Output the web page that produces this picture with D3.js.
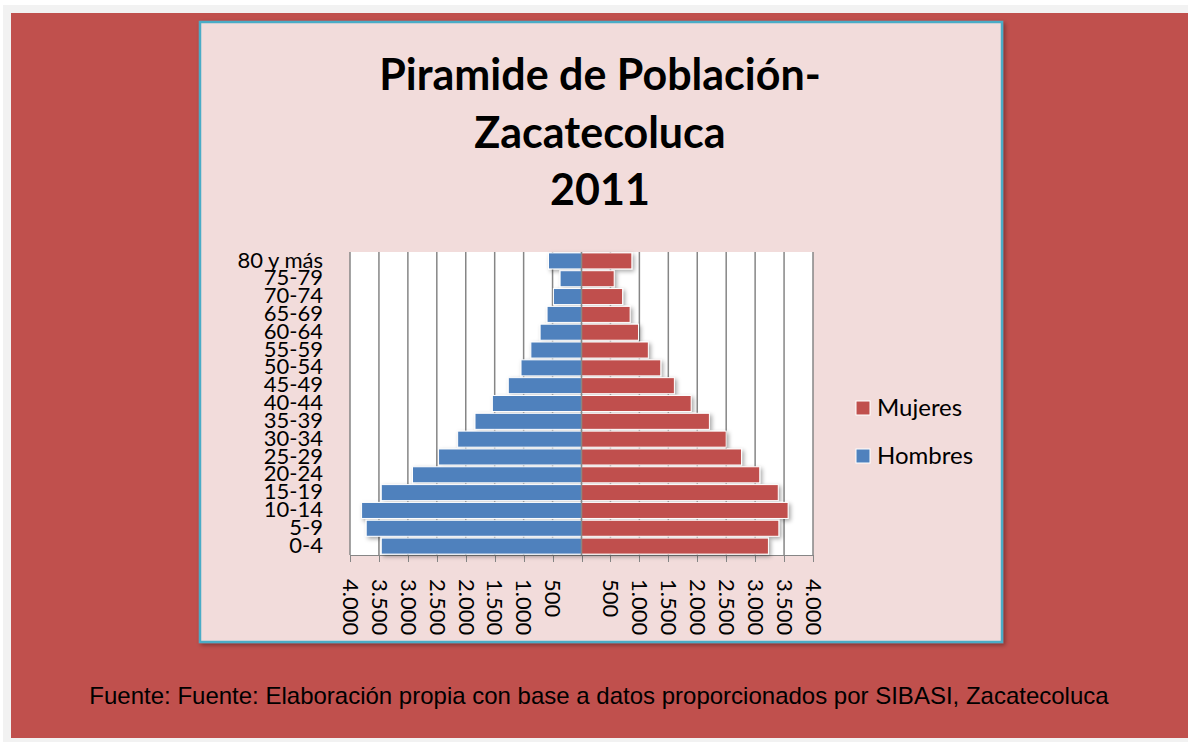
<!DOCTYPE html>
<html lang="es">

<head>
  <meta charset="utf-8">
  <title>Piramide de Población - Zacatecoluca 2011</title>
  <style>
    body {
      margin: 0;
      background: #ffffff;
    }

    .axis text {
      font-family: Lato, "Open Sans", sans-serif;
      fill: #000;
    }

    .axis path,
    .axis line {
      fill: none;
      stroke: #868686;
      shape-rendering: crispEdges;
    }
  </style>
</head>

<body>
  <div id="chart"></div>

<script src="https://d3js.org/d3.v7.min.js"></script>

<script>
  // age groups, youngest first
  const ageGroups = ["0-4", "5-9", "10-14", "15-19", "20-24", "25-29", "30-34", "35-39",
    "40-44", "45-49", "50-54", "55-59", "60-64", "65-69", "70-74", "75-79", "80 y más"];
  const hombres = [3460, 3720, 3800, 3460, 2920, 2470, 2140, 1840,
    1540, 1265, 1045, 875, 715, 595, 485, 370, 570];
  const mujeres = [3230, 3410, 3570, 3400, 3080, 2765, 2500, 2210,
    1895, 1605, 1370, 1155, 985, 840, 710, 565, 870];
  const tickValues = d3.range(-4000, 4001, 500);
  const titleLines = ["Piramide de Población-", "Zacatecoluca", "2011"];
  const legendItems = [{ name: "Mujeres", color: "#c0504d" }, { name: "Hombres", color: "#4f81bd" }];
  const footer = "Fuente: Fuente: Elaboración propia con base a datos proporcionados por SIBASI, Zacatecoluca";

  const width = 1188,
    height = 742;

  const plot = { left: 350, right: 813, top: 252, bottom: 555 };

  const svg = d3.select("#chart")
    .append("svg")
    .attr("width", width)
    .attr("height", height)
    .style("display", "block");

  const defs = svg.append("defs");
  const shadow = defs.append("filter").attr("id", "shadow")
    .attr("x", "-10%").attr("y", "-10%").attr("width", "130%").attr("height", "140%");
  shadow.append("feDropShadow")
    .attr("dx", 2).attr("dy", 2).attr("stdDeviation", 2)
    .attr("flood-color", "#000").attr("flood-opacity", 0.35);

  // page background + red panel
  svg.append("rect").attr("x", 3).attr("y", 5).attr("width", width - 3).attr("height", height - 5)
    .attr("fill", "#f2f2f2");
  svg.append("rect").attr("x", 11).attr("y", 13).attr("width", width - 11).attr("height", 725)
    .attr("fill", "#c0504d");

  // chart box
  svg.append("rect")
    .attr("x", 200).attr("y", 22).attr("width", 802).attr("height", 620)
    .attr("fill", "#f2dcdb")
    .attr("stroke", "#4bacc6")
    .attr("stroke-width", 2.5)
    .attr("filter", "url(#shadow)");

  // title
  svg.append("g").selectAll("text")
    .data(titleLines)
    .join("text")
    .attr("x", 600)
    .attr("y", (d, i) => 90 + i * 57.5)
    .attr("text-anchor", "middle")
    .style("font", "bold 43px Lato, 'Open Sans', sans-serif")
    .text(d => d);

  const xScale = d3.scaleLinear()
    .domain([-4000, 4000])
    .range([plot.left, plot.right]);

  const yScale = d3.scaleBand()
    .domain(ageGroups.slice().reverse())
    .range([plot.top, plot.bottom])
    .paddingInner(0.1)
    .paddingOuter(0.05);

  // plot area
  svg.append("rect")
    .attr("x", plot.left).attr("y", plot.top)
    .attr("width", plot.right - plot.left).attr("height", plot.bottom - plot.top)
    .attr("fill", "#fff");

  // vertical gridlines
  svg.append("g").selectAll("line")
    .data(tickValues)
    .join("line")
    .attr("x1", d => xScale(d)).attr("x2", d => xScale(d))
    .attr("y1", plot.top).attr("y2", plot.bottom)
    .attr("stroke", "#868686")
    .attr("stroke-width", 1.5);

  const fmt = d3.formatLocale({ decimal: ",", thousands: ".", grouping: [3], currency: ["", ""] }).format(",");

  const xAxis = svg.append("g")
    .attr("class", "axis")
    .attr("transform", `translate(0,${plot.bottom})`)
    .call(d3.axisBottom(xScale)
      .tickValues(tickValues)
      .tickSizeOuter(0)
      .tickSize(7)
      .tickFormat(d => d === 0 ? "" : fmt(Math.abs(d))));

  xAxis.selectAll("text")
    .attr("transform", "rotate(90)")
    .attr("x", 24)
    .attr("y", 0)
    .attr("dy", "0.35em")
    .style("text-anchor", "start")
    .style("font-size", "22px");

  // bars
  const bars = svg.append("g").attr("filter", "url(#shadow)");

  bars.selectAll("rect.h")
    .data(ageGroups)
    .join("rect")
    .attr("class", "h")
    .attr("x", (d, i) => xScale(-hombres[i]))
    .attr("y", d => yScale(d))
    .attr("width", (d, i) => xScale(0) - xScale(-hombres[i]))
    .attr("height", yScale.bandwidth())
    .attr("fill", "#4f81bd")
    .attr("stroke", "#fff")
    .attr("stroke-width", 1);

  bars.selectAll("rect.m")
    .data(ageGroups)
    .join("rect")
    .attr("class", "m")
    .attr("x", xScale(0))
    .attr("y", d => yScale(d))
    .attr("width", (d, i) => xScale(mujeres[i]) - xScale(0))
    .attr("height", yScale.bandwidth())
    .attr("fill", "#c0504d")
    .attr("stroke", "#fff")
    .attr("stroke-width", 1);

  // center axis line
  svg.append("line")
    .attr("x1", xScale(0)).attr("x2", xScale(0))
    .attr("y1", plot.top).attr("y2", plot.bottom)
    .attr("stroke", "#868686")
    .attr("stroke-width", 1.5);

  // category labels
  const yAxis = svg.append("g")
    .attr("class", "axis")
    .attr("transform", `translate(${plot.left},0)`)
    .call(d3.axisLeft(yScale).tickSize(0).tickPadding(27));
  yAxis.select(".domain").remove();
  yAxis.selectAll("text")
    .style("font-size", "22px")
    .attr("dy", "0.3em");

  // legend
  const legend = svg.append("g")
    .selectAll("g")
    .data(legendItems)
    .join("g")
    .attr("transform", (d, i) => `translate(856,${408 + i * 48})`);

  legend.append("rect")
    .attr("x", 0).attr("y", -7)
    .attr("width", 14).attr("height", 14)
    .attr("fill", d => d.color)
    .attr("stroke", "#fff")
    .attr("stroke-width", 1);

  legend.append("text")
    .attr("x", 21)
    .attr("dy", "0.35em")
    .style("font", "24px Lato, 'Open Sans', sans-serif")
    .text(d => d.name);

  // source line
  svg.append("text")
    .attr("x", 599)
    .attr("y", 704)
    .attr("text-anchor", "middle")
    .style("font", "24px 'Liberation Sans', Arial, sans-serif")
    .text(footer);
</script>
</body>
</html>
